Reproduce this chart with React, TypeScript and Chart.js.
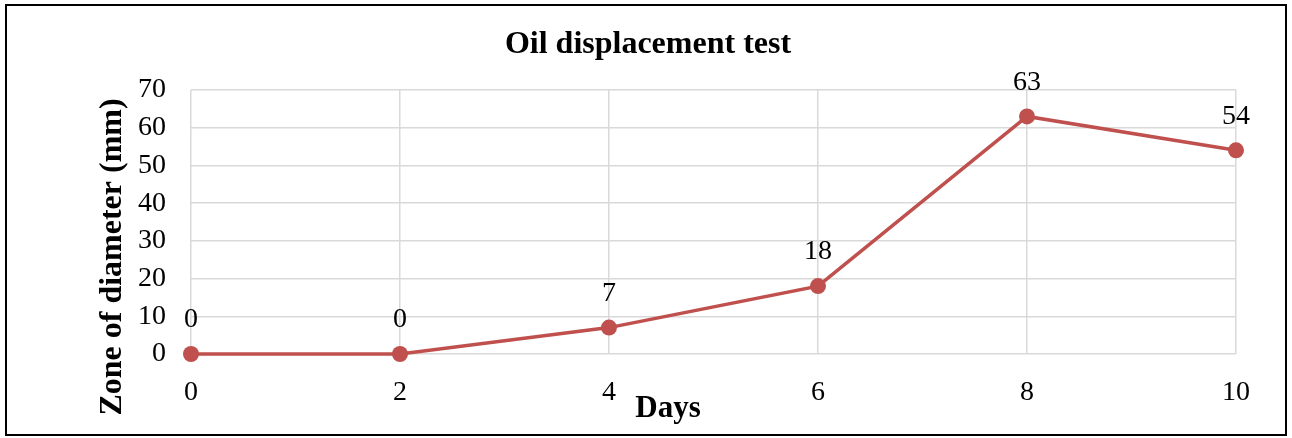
import React, { useEffect, useRef } from "react";
import { Chart, registerables } from "chart.js";

Chart.register(...registerables);

const days = [0, 2, 4, 6, 8, 10];
const diameters = [0, 0, 7, 18, 63, 54];
const xTicks = [0, 2, 4, 6, 8, 10];
const yTicks = [0, 10, 20, 30, 40, 50, 60, 70];
const chartTitle = "Oil displacement test";
const xTitle = "Days";
const yTitle = "Zone of diameter (mm)";

const FONT = "'Liberation Serif', 'Times New Roman', serif";
const LINE = "#C0504D";

export default function App() {
  const ref = useRef<HTMLCanvasElement | null>(null);

  useEffect(() => {
    document.body.style.margin = "0";
    const canvas = ref.current!;
    const decor = {
      id: "decor",
      afterDraw(chart: any) {
        const ctx = chart.ctx as CanvasRenderingContext2D;
        ctx.save();
        // frame
        ctx.strokeStyle = "#000";
        ctx.lineWidth = 2;
        ctx.strokeRect(6, 5, 1280, 430);
        // title
        ctx.fillStyle = "#000";
        ctx.textAlign = "center";
        ctx.textBaseline = "middle";
        ctx.font = `bold 32px ${FONT}`;
        ctx.fillText(chartTitle, 648, 45);
        // x title
        ctx.font = `bold 31px ${FONT}`;
        ctx.fillText(xTitle, 668, 409);
        // y title
        ctx.save();
        ctx.font = `bold 32px ${FONT}`;
        ctx.translate(113, 257);
        ctx.rotate(-Math.PI / 2);
        ctx.fillText(yTitle, 0, 0);
        ctx.restore();
        // data labels
        const meta = chart.getDatasetMeta(0);
        ctx.font = `28px ${FONT}`;
        meta.data.forEach((pt: any, i: number) => {
          ctx.fillText(String(diameters[i]), pt.x, pt.y - 34);
        });
        ctx.restore();
      },
    };

    const chart = new Chart(canvas, {
      type: "line",
      data: {
        datasets: [
          {
            data: days.map((d, i) => ({ x: d, y: diameters[i] })),
            borderColor: LINE,
            backgroundColor: LINE,
            borderWidth: 3.5,
            pointRadius: 8,
            pointHoverRadius: 8,
            pointBackgroundColor: LINE,
            pointBorderColor: LINE,
            pointBorderWidth: 0,
            tension: 0,
            clip: false,
          },
        ],
      },
      plugins: [decor],
      options: {
        animation: false,
        responsive: false,
        events: [],
        layout: { padding: { left: 0, right: 56, top: 90, bottom: 0 } },
        plugins: {
          legend: { display: false },
          title: { display: false },
          tooltip: { enabled: false },
        },
        scales: {
          x: {
            type: "linear",
            min: 0,
            max: 10,
            afterFit: (s: any) => {
              s.height = 84;
            },
            afterBuildTicks: (s: any) => {
              s.ticks = xTicks.map((v) => ({ value: v }));
            },
            ticks: {
              color: "#000",
              font: { family: FONT, size: 28 },
              padding: 22,
              maxRotation: 0,
            },
            grid: { color: "#d9d9d9", lineWidth: 1.5, drawTicks: false },
            border: { display: false },
          },
          y: {
            min: 0,
            max: 70,
            afterFit: (s: any) => {
              s.width = 191;
            },
            afterBuildTicks: (s: any) => {
              s.ticks = yTicks.map((v) => ({ value: v }));
            },
            ticks: {
              color: "#000",
              font: { family: FONT, size: 28 },
              padding: 25,
            },
            grid: { color: "#d9d9d9", lineWidth: 1.5, drawTicks: false },
            border: { display: false },
          },
        },
      },
    } as any);
    return () => chart.destroy();
  }, []);

  return (
    <div style={{ position: "absolute", left: 0, top: 0, width: 1292, height: 438, background: "#fff" }}>
      <canvas ref={ref} width={1292} height={438} style={{ width: 1292, height: 438, display: "block" }} />
    </div>
  );
}
